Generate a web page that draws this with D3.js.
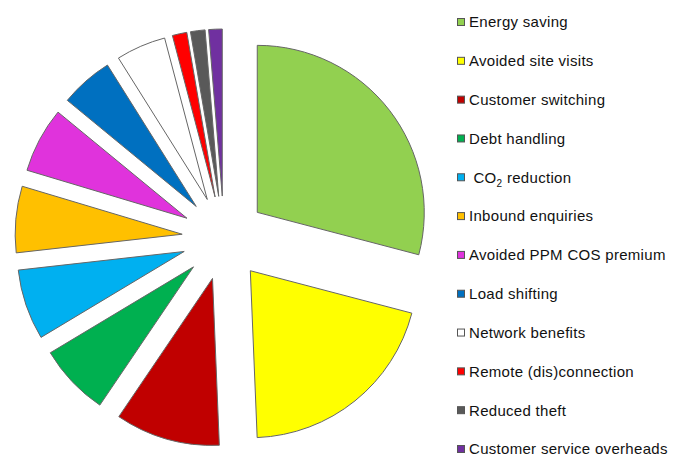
<!DOCTYPE html>
<html>
<head>
<meta charset="utf-8">
<script src="https://cdn.jsdelivr.net/npm/d3@7"></script>
<style>
    body { margin: 0; background: #fff; }
    text { font-family: "Liberation Sans", Arial, sans-serif; }
</style>
</head>
<body>
<svg id="chart"></svg>
<script>
const categories = [
    'Energy saving', 'Avoided site visits', 'Customer switching', 'Debt handling',
    'CO2 reduction', 'Inbound enquiries', 'Avoided PPM COS premium', 'Load shifting',
    'Network benefits', 'Remote (dis)connection', 'Reduced theft', 'Customer service overheads'
];
const values = [29.0, 20.2, 10.1, 6.9, 6.8, 6.4, 6.3, 5.1, 4.8, 1.4, 1.4, 1.3];
const colors = [
    '#92D050', '#FFFF00', '#C00000', '#00B050', '#00B0F0', '#FFC000',
    '#E033DC', '#0070C0', '#FFFFFF', '#FF0000', '#595959', '#7030A0'
];

const width = 686;
const height = 459;

const svg = d3.select('#chart')
    .attr('width', width)
    .attr('height', height);

const cx = 224, cy = 238, radius = 167, explode = 42;

const pie = d3.pie().sort(null).value(d => d.value);
const arc = d3.arc().innerRadius(0).outerRadius(radius);

const data = categories.map((c, i) => ({ name: c, value: values[i], color: colors[i] }));

const slices = svg.append('g')
    .attr('transform', `translate(${cx},${cy})`);

slices.selectAll('path')
    .data(pie(data))
    .enter().append('path')
    .attr('d', arc)
    .attr('transform', d => {
        const mid = (d.startAngle + d.endAngle) / 2;
        return `translate(${Math.sin(mid) * explode},${-Math.cos(mid) * explode})`;
    })
    .attr('fill', d => d.data.color)
    .attr('stroke', '#666')
    .attr('stroke-width', 1);

// legend
const legendY = d3.scalePoint()
    .domain(categories)
    .range([22, 449]);

const legend = svg.append('g');

const item = legend.selectAll('.item')
    .data(data)
    .enter().append('g')
    .attr('class', 'item')
    .attr('transform', d => `translate(457,${legendY(d.name)})`);

item.append('rect')
    .attr('x', 0.5)
    .attr('y', -3.5)
    .attr('width', 7)
    .attr('height', 7)
    .attr('fill', d => d.color)
    .attr('stroke', '#555')
    .attr('stroke-width', 1);

item.append('text')
    .attr('x', 12)
    .attr('dy', '0.36em')
    .attr('font-size', 15)
    .attr('letter-spacing', 0.3)
    .attr('fill', '#111')
    .each(function(d) {
        const t = d3.select(this);
        if (d.name === 'CO2 reduction') {
            t.append('tspan').text('\u00a0CO');
            t.append('tspan').attr('font-size', 10).attr('dy', 4).text('2');
            t.append('tspan').attr('dy', -4).text(' reduction');
        } else {
            t.text(d.name);
        }
    });
</script>
</body>
</html>
